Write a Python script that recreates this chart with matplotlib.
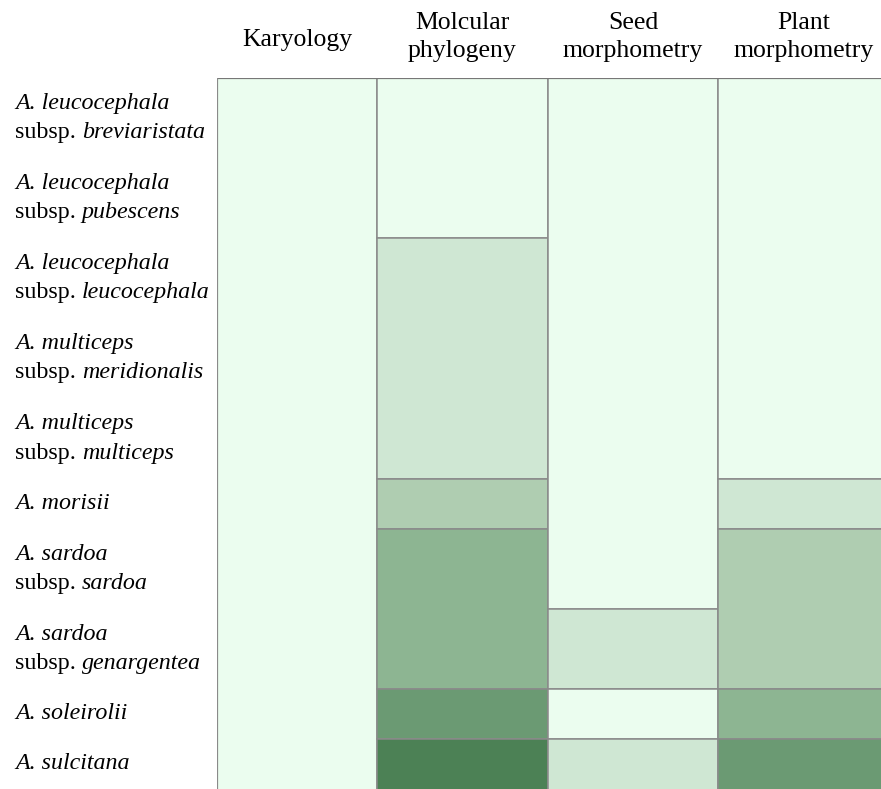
import matplotlib.pyplot as plt
from matplotlib.transforms import blended_transform_factory

columns = ["Karyology", "Molcular\nphylogeny", "Seed\nmorphometry", "Plant\nmorphometry"]

species = ["A. leucocephala", "A. leucocephala", "A. leucocephala", "A. multiceps",
           "A. multiceps", "A. morisii", "A. sardoa", "A. sardoa", "A. soleirolii", "A. sulcitana"]
subspecies = ["breviaristata", "pubescens", "leucocephala", "meridionalis",
              "multiceps", "", "sardoa", "genargentea", "", ""]

# group id per row (a change of id = new cell) and shade level per row
karyo_groups = [1, 1, 1, 1, 1, 1, 1, 1, 1, 1]
karyo_shade = [0, 0, 0, 0, 0, 0, 0, 0, 0, 0]
molec_groups = [1, 1, 2, 2, 2, 3, 4, 4, 5, 6]
molec_shade = [0, 0, 1, 1, 1, 2, 3, 3, 4, 5]
seed_groups = [1, 1, 1, 1, 1, 1, 1, 2, 3, 4]
seed_shade = [0, 0, 0, 0, 0, 0, 0, 1, 0, 1]
plant_groups = [1, 1, 1, 1, 1, 2, 3, 3, 4, 5]
plant_shade = [0, 0, 0, 0, 0, 1, 2, 2, 3, 4]

groups = [karyo_groups, molec_groups, seed_groups, plant_groups]
shades = [karyo_shade, molec_shade, seed_shade, plant_shade]

palette = ["#ebfdef", "#cfe7d3", "#afcdb1", "#8db592", "#6b9a73", "#4c8155"]
edge = "#8a8a8a"

W, H = 881, 789
fig = plt.figure(figsize=(W / 100, H / 100), dpi=100)
# axes run a little past the right and bottom edges, so the table looks cut off
ax = fig.add_axes([217 / W, -4 / H, 672 / W, (H - 78 + 4) / H])

# row heights: two-line labels get taller rows
heights = [80 if s else 50 for s in subspecies]
tops = [sum(heights[:i]) for i in range(len(heights))]
col_w = [160, 171, 170, 171]
col_x = [sum(col_w[:i]) for i in range(len(col_w))]

for c in range(len(columns)):
    g = groups[c]
    start = 0
    for r in range(1, len(g) + 1):
        if r == len(g) or g[r] != g[start]:
            y0 = tops[start]
            h = sum(heights[start:r])
            if r == len(g):
                h += 10
            ax.bar(col_x[c], h, width=col_w[c], bottom=y0, align="edge",
                   color=palette[shades[c][start]], edgecolor=edge, linewidth=1.1)
            start = r

ax.set_xlim(0, sum(col_w))
ax.set_ylim(sum(heights) + 4, 0)
ax.axis("off")
ax.axhline(0, color="#777777", lw=1.6)
ax.axvline(0, color=edge, lw=1.6)

serif = ["Liberation Serif", "DejaVu Serif"]
fs = 17.3
hfs = 18.5

# column headers
ht = blended_transform_factory(ax.transData, fig.transFigure)
for c, name in enumerate(columns):
    yc = 1 - (40 if "\n" not in name else 37) / H
    ax.text(col_x[c] + col_w[c] / 2, yc, name, transform=ht, ha="center", va="center",
            fontsize=hfs, family=serif, linespacing=1.38)

# row labels
lt = blended_transform_factory(fig.transFigure, ax.transData)
for i in range(len(species)):
    yc = tops[i] + heights[i] / 2
    if subspecies[i]:
        ax.text(15 / W, yc - 14.5, species[i], transform=lt, ha="left", va="center",
                fontsize=fs, family=serif, style="italic")
        t = ax.text(15 / W, yc + 14.5, "subsp. ", transform=lt, ha="left", va="center",
                    fontsize=fs, family=serif)
        ax.annotate(subspecies[i], xy=(1, 0), xycoords=t, ha="left", va="bottom",
                    fontsize=fs, family=serif, style="italic")
    else:
        ax.text(15 / W, yc, species[i], transform=lt, ha="left", va="center",
                fontsize=fs, family=serif, style="italic")

fig.savefig("out.png", dpi=100)
